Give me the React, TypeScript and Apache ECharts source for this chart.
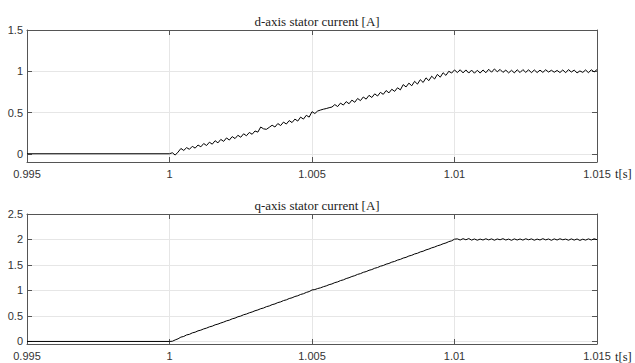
import React, { useEffect, useRef } from 'react';
import * as echarts from 'echarts';

// Flat (pre-step) section
const T_FLAT = [0.995];
const FLAT_VALUES = [0];

// Sampled section: t = T_START + k * T_STEP
const T_START = 1.0;
const T_STEP = 0.0001;

const D_VALUES = [
  0.000, 0.012, -0.016, 0.020, 0.064, 0.040, 0.074, 0.054, 0.090, 0.068,
  0.106, 0.084, 0.124, 0.100, 0.140, 0.116, 0.158, 0.132, 0.174, 0.150,
  0.192, 0.166, 0.208, 0.184, 0.224, 0.200, 0.242, 0.218, 0.258, 0.236,
  0.276, 0.262, 0.324, 0.302, 0.296, 0.320, 0.346, 0.324, 0.366, 0.342,
  0.384, 0.360, 0.402, 0.378, 0.420, 0.396, 0.444, 0.420, 0.466, 0.444,
  0.510, 0.488, 0.518, 0.530, 0.540, 0.548, 0.558, 0.566, 0.596, 0.572,
  0.614, 0.590, 0.632, 0.606, 0.650, 0.624, 0.670, 0.644, 0.688, 0.662,
  0.708, 0.682, 0.726, 0.700, 0.744, 0.720, 0.766, 0.738, 0.782, 0.756,
  0.800, 0.774, 0.838, 0.810, 0.856, 0.824, 0.878, 0.844, 0.898, 0.864,
  0.920, 0.886, 0.940, 0.906, 0.962, 0.928, 0.982, 0.950, 1.000, 0.978,
  1.016,
  0.984, 1.018, 0.980, 1.016, 0.978, 1.014, 0.976, 1.012, 0.978, 1.016,
  0.982, 1.024, 0.988, 1.028, 0.994, 1.022, 0.986, 1.014, 0.980, 1.012,
  0.980, 1.018, 0.984, 1.020, 0.986, 1.018, 0.982, 1.016, 0.984, 1.014,
  0.986, 1.018, 0.990, 1.012, 0.988, 1.010, 0.984, 1.016, 0.982, 1.020,
  0.990, 1.014, 0.980, 1.004, 0.986, 1.016, 0.982, 1.018, 0.992, 1.020,
];

const Q_VALUES = [
  0.000, 0.004, 0.030, 0.052, 0.085, 0.098, 0.128, 0.140, 0.168, 0.182,
  0.208, 0.222, 0.246, 0.262, 0.286, 0.300, 0.326, 0.340, 0.362, 0.380,
  0.404, 0.418, 0.444, 0.458, 0.484, 0.498, 0.524, 0.538, 0.562, 0.578,
  0.602, 0.618, 0.642, 0.656, 0.682, 0.696, 0.722, 0.736, 0.762, 0.776,
  0.802, 0.816, 0.842, 0.856, 0.882, 0.896, 0.922, 0.936, 0.962, 0.978,
  1.010, 1.018, 1.038, 1.052, 1.074, 1.090, 1.114, 1.128, 1.154, 1.168,
  1.194, 1.208, 1.234, 1.250, 1.274, 1.290, 1.316, 1.330, 1.356, 1.370,
  1.396, 1.410, 1.436, 1.450, 1.476, 1.490, 1.516, 1.530, 1.556, 1.570,
  1.596, 1.610, 1.636, 1.650, 1.676, 1.690, 1.716, 1.730, 1.756, 1.770,
  1.796, 1.812, 1.836, 1.852, 1.876, 1.892, 1.916, 1.932, 1.958, 1.974,
  2.006,
  2.012, 1.990, 2.016, 1.994, 2.018, 1.988, 2.010, 1.986, 2.008, 1.990,
  2.014, 1.992, 2.012, 1.986, 2.010, 1.994, 2.016, 1.990, 2.008, 1.984,
  2.012, 1.990, 2.010, 1.988, 2.014, 1.994, 2.012, 1.986, 2.008, 1.990,
  2.016, 1.992, 2.010, 1.984, 2.012, 1.990, 2.014, 1.994, 2.008, 1.986,
  2.012, 1.988, 2.010, 1.982, 2.006, 1.988, 2.012, 1.990, 2.014, 1.996,
];

const X_TICKS = [0.995, 1, 1.005, 1.01, 1.015];
const D_Y_TICKS = [0, 0.5, 1, 1.5];
const Q_Y_TICKS = [0, 0.5, 1, 1.5, 2, 2.5];
const TITLES = ['d-axis stator current [A]', 'q-axis stator current [A]'];
const X_UNIT = 't[s]';

function toSeries(values: number[]): number[][] {
  const pts: number[][] = T_FLAT.map((t, i) => [t, FLAT_VALUES[i]]);
  values.forEach((v, k) => pts.push([+(T_START + k * T_STEP).toFixed(5), v]));
  return pts;
}

const BOX = '#555555';
const GRIDC = '#e6e6e6';
const LABEL = '#333333';
const SANS = 'Liberation Sans';
const SERIF = 'Liberation Serif';

const fmt = (v: number) => String(parseFloat(Number(v).toFixed(4)));

function xAxes(gridIndex: number) {
  const common = {
    gridIndex,
    type: 'value',
    min: 0.995,
    max: 1.015,
    axisLine: { show: true, onZero: false, lineStyle: { color: BOX, width: 1 } },
  };
  return [
    {
      ...common,
      position: 'bottom',
      axisTick: { show: true, inside: true, length: 5, customValues: X_TICKS, lineStyle: { color: BOX } },
      axisLabel: {
        show: true, customValues: X_TICKS, formatter: fmt, color: LABEL,
        fontFamily: SANS, fontSize: 11, margin: 6,
      },
      splitLine: { show: true, lineStyle: { color: GRIDC, width: 1 } },
    },
    {
      ...common,
      position: 'top',
      axisTick: { show: true, inside: true, length: 5, customValues: X_TICKS, lineStyle: { color: BOX } },
      axisLabel: { show: false },
      splitLine: { show: false },
    },
  ];
}

function yAxes(gridIndex: number, min: number, max: number, ticks: number[]) {
  const common = {
    gridIndex,
    type: 'value',
    min,
    max,
    axisLine: { show: true, onZero: false, lineStyle: { color: BOX, width: 1 } },
  };
  return [
    {
      ...common,
      position: 'left',
      axisTick: { show: true, inside: true, length: 5, customValues: ticks, lineStyle: { color: BOX } },
      axisLabel: {
        show: true, customValues: ticks, formatter: fmt, color: LABEL,
        fontFamily: SANS, fontSize: 11, margin: 4,
      },
      splitLine: { show: true, lineStyle: { color: GRIDC, width: 1 } },
    },
    {
      ...common,
      position: 'right',
      axisTick: { show: true, inside: true, length: 5, customValues: ticks, lineStyle: { color: BOX } },
      axisLabel: { show: false },
      splitLine: { show: false },
    },
  ];
}

export default function App() {
  const ref = useRef<HTMLDivElement>(null);
  useEffect(() => {
    if (!ref.current) return;
    const chart = echarts.init(ref.current, null, { renderer: 'svg' });
    chart.setOption({
      animation: false,
      backgroundColor: '#ffffff',
      title: [
        {
          text: TITLES[0], left: 312, top: 10, textAlign: 'center',
          textStyle: { fontFamily: SERIF, fontSize: 13, fontWeight: 'normal', color: '#222' },
        },
        {
          text: TITLES[1], left: 312, top: 194, textAlign: 'center',
          textStyle: { fontFamily: SERIF, fontSize: 13, fontWeight: 'normal', color: '#222' },
        },
      ],
      grid: [
        { left: 27, right: 38, top: 30, height: 132, containLabel: false },
        { left: 27, right: 38, top: 214, height: 130, containLabel: false },
      ],
      xAxis: [...xAxes(0), ...xAxes(1)],
      yAxis: [...yAxes(0, -0.1, 1.5, D_Y_TICKS), ...yAxes(1, -0.05, 2.5, Q_Y_TICKS)],
      graphic: [
        { type: 'text', x: 615, y: 174, style: { text: X_UNIT, font: `12.5px "${SERIF}"`, fill: '#222', verticalAlign: 'middle' } },
        { type: 'text', x: 615, y: 357, style: { text: X_UNIT, font: `12.5px "${SERIF}"`, fill: '#222', verticalAlign: 'middle' } },
      ],
      series: [
        {
          type: 'line', xAxisIndex: 0, yAxisIndex: 0, data: toSeries(D_VALUES),
          showSymbol: false, symbol: 'none', lineStyle: { color: '#000', width: 1 }, silent: true,
        },
        {
          type: 'line', xAxisIndex: 2, yAxisIndex: 2, data: toSeries(Q_VALUES),
          showSymbol: false, symbol: 'none', lineStyle: { color: '#000', width: 1 }, silent: true,
        },
      ],
    });
    return () => chart.dispose();
  }, []);
  return (
    <div
      ref={ref}
      style={{ position: 'fixed', left: 0, top: 0, width: 635, height: 363, background: '#fff' }}
    />
  );
}
